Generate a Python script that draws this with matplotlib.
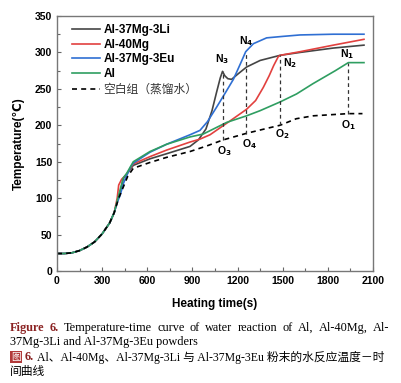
import matplotlib
matplotlib.use("Agg")
import matplotlib.pyplot as plt
from matplotlib.ticker import MultipleLocator
from matplotlib.patches import Rectangle

plt.rcParams['font.family'] = ['Liberation Sans', 'DejaVu Sans']

# shared early heating part (s, degC)
t_start = [0, 50, 100, 150, 200, 250, 300, 350, 380]
T_start = [24, 24, 25, 28, 33, 40, 51, 66, 80]

# Al-37Mg-3Li
t_li = [400, 420, 441, 463, 507, 618, 729, 884, 940, 990, 1030, 1060, 1085, 1100,
        1115, 1135, 1160, 1200, 1260, 1350, 1482, 1615, 1836, 2040]
T_li = [95, 108, 127, 133, 145, 154, 161, 171, 180, 195, 220, 245, 265, 274,
        268, 264, 263, 270, 280, 289, 296, 300, 306, 310]

# Al-40Mg
t_mg = [400, 410, 430, 460, 507, 618, 729, 884, 950, 1017, 1150, 1260, 1320, 1371,
        1410, 1440, 1470, 1482, 1615, 1836, 2040]
T_mg = [100, 118, 126, 132, 147, 157, 166, 177, 181, 187, 206, 222, 234, 252,
        268, 282, 294, 296, 301, 310, 318]

# Al-37Mg-3Eu
t_eu = [400, 420, 441, 463, 490, 507, 618, 729, 884, 950, 1000, 1061, 1120, 1172,
        1220, 1254, 1305, 1393, 1500, 1615, 1836, 2040]
T_eu = [94, 104, 120, 131, 143, 148, 163, 174, 187, 193, 205, 225, 245, 263,
        285, 301, 312, 320, 322, 324, 325, 325]

# Al
t_al = [400, 420, 441, 463, 507, 618, 729, 884, 972, 1128, 1260, 1349, 1482, 1592,
        1700, 1850, 1936, 2040]
T_al = [96, 112, 128, 134, 150, 164, 174, 184, 188, 204, 213, 220, 232, 243,
        257, 275, 286, 286]

# blank group (distilled water)
t_w = [410, 440, 470, 507, 618, 729, 884, 1000, 1105, 1260, 1400, 1482, 1590, 1703,
       1936, 2030]
T_w = [100, 115, 130, 141, 149, 156, 164, 172, 180, 189, 196, 200, 209, 213,
       216, 216]

# marked points: N (on curve) and O (on blank curve)
mark_t = [1936, 1482, 1100, 1254]
mark_N = [286, 296, 274, 301]
mark_O = [216, 200, 180, 188]

fig = plt.figure(figsize=(4.02, 3.83), dpi=100)
ax = fig.add_axes([57 / 402, 1 - 271 / 383, 316 / 402, 255 / 383])

series = [
    ('Al-37Mg-3Li', t_li, T_li, '#454545', '-'),
    ('Al-40Mg', t_mg, T_mg, '#e2413f', '-'),
    ('Al-37Mg-3Eu', t_eu, T_eu, '#2f6fd3', '-'),
    ('Al', t_al, T_al, '#2f9e61', '-'),
    ('空白组（蒸馏水）', t_w, T_w, 'black', '--'),
]
for name, t, T, c, ls in series:
    ax.plot(t_start + t, T_start + T, color=c, ls=ls, lw=1.2, label=name,
            dashes=(3, 2.5) if ls == '--' else (None, None))

for t, n, o in zip(mark_t, mark_N, mark_O):
    ax.plot([t, t], [o, n], color='#333333', lw=0.9, dashes=(3, 2.5))

lab_kw = dict(fontsize=7.5, fontweight='bold', ha='center', va='center')
ax.text(1930, 298, 'N$_\\mathbf{1}$', **lab_kw)
ax.text(1550, 286, 'N$_\\mathbf{2}$', **lab_kw)
ax.text(1100, 291, 'N$_\\mathbf{3}$', **lab_kw)
ax.text(1254, 316, 'N$_\\mathbf{4}$', **lab_kw)
ax.text(1936, 200, 'O$_\\mathbf{1}$', **lab_kw)
ax.text(1500, 188, 'O$_\\mathbf{2}$', **lab_kw)
ax.text(1110, 164, 'O$_\\mathbf{3}$', **lab_kw)
ax.text(1282, 174, 'O$_\\mathbf{4}$', **lab_kw)

ax.set_xlim(0, 2100)
ax.set_ylim(0, 350)
ax.xaxis.set_major_locator(MultipleLocator(300))
ax.xaxis.set_minor_locator(MultipleLocator(150))
ax.yaxis.set_major_locator(MultipleLocator(50))
ax.yaxis.set_minor_locator(MultipleLocator(25))
ax.tick_params(which='both', direction='in', colors='#666666', labelcolor='black',
               labelsize=7.5, width=0.8)
ax.tick_params(which='major', length=3)
ax.tick_params(which='minor', length=2)
for lbl in ax.get_xticklabels() + ax.get_yticklabels():
    lbl.set_fontweight('bold')
for sp in ax.spines.values():
    sp.set_color('#777777')
    sp.set_linewidth(1.0)

ax.set_xlabel('Heating time(s)', fontsize=8.5, fontweight='bold', labelpad=9)
ax.set_ylabel('Temperature(℃)', fontsize=8.5, fontweight='bold', labelpad=7)

leg = ax.legend(loc='upper left', bbox_to_anchor=(0.02, 1.0), frameon=False,
                fontsize=8.5, handlelength=2.4, handletextpad=0.3, labelspacing=0.22,
                borderpad=0.2)
for i, txt in enumerate(leg.get_texts()):
    if i < 4:
        txt.set_fontweight('bold')
    else:
        txt.set_family(['Noto Sans CJK SC', 'DejaVu Sans'])
        txt.set_color('#333333')

# caption
serif = ['Liberation Serif', 'Noto Sans CJK SC']
cap_fs = 8.8
fig.canvas.draw()
r = fig.canvas.get_renderer()

def px(x, y):
    return x / 402, 1 - y / 383

# first line, justified from x=10 to x=389
words1 = ['Figure', '6.', 'Temperature-time', 'curve', 'of', 'water', 'reaction',
          'of', 'Al,', 'Al-40Mg,', 'Al-']
objs = []
for k, w in enumerate(words1):
    red = k < 2
    objs.append(fig.text(0, 1 - 328 / 383, w, fontsize=cap_fs, family=serif,
                         fontweight='bold' if red else 'normal',
                         color='#8b2323' if red else 'black', va='center'))
widths = [o.get_window_extent(r).width for o in objs]
gap = (379 - sum(widths)) / (len(words1) - 1)
x = 10.0
for o, w in zip(objs, widths):
    o.set_x(x / 402)
    x += w + gap

fig.text(*px(10, 342), '37Mg-3Li and Al-37Mg-3Eu powders', fontsize=cap_fs,
         family=serif, va='center')
fig.patches.append(Rectangle(px(10, 363), 12 / 402, 12 / 383, transform=fig.transFigure,
                             facecolor='#b23a3a', edgecolor='none'))
fig.text(*px(16, 357), '图', fontsize=7, family=['Noto Sans CJK SC'], color='white',
         ha='center', va='center')
t3 = fig.text(*px(25, 357), '6.', fontsize=cap_fs, family=serif, fontweight='bold',
              color='#8b2323', va='center')
w3 = t3.get_window_extent(r).x1
fig.text(w3 / 402 + 0.006, 1 - 357 / 383,
         'Al、Al-40Mg、Al-37Mg-3Li 与 Al-37Mg-3Eu 粉末的水反应温度－时',
         fontsize=8.5, family=serif, va='center')
fig.text(*px(10, 372), '间曲线', fontsize=8.5, family=serif, va='center')

fig.savefig('out.png', dpi=100)
